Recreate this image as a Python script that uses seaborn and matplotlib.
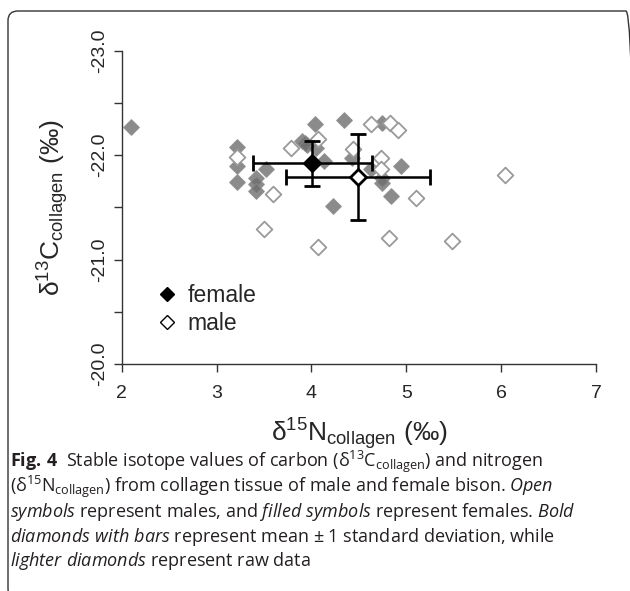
import matplotlib
matplotlib.use("Agg")
import matplotlib.pyplot as plt
from matplotlib.lines import Line2D
from matplotlib.patches import FancyBboxPatch
import seaborn as sns
import pandas as pd

# raw data (d15N, d13C)
female_n = [2.10, 3.22, 3.22, 3.22, 3.42, 3.42, 3.42, 3.52, 3.90, 3.93, 3.95, 4.04,
            4.05, 4.13, 4.23, 4.34, 4.43, 4.63, 4.74, 4.74, 4.74, 4.94, 4.84]
female_c = [-22.27, -22.08, -21.90, -21.74, -21.78, -21.72, -21.66, -21.87, -22.14, -22.12, -22.10, -22.30,
            -22.07, -21.94, -21.51, -22.34, -21.97, -21.87, -22.31, -21.78, -21.73, -21.90, -21.61]
male_n = [3.22, 3.79, 4.07, 3.60, 3.50, 4.07, 4.44, 4.63, 4.83, 4.91, 4.73, 4.73, 5.10, 6.04, 4.82, 5.48]
male_c = [-21.98, -22.07, -22.15, -21.63, -21.29, -21.12, -22.06, -22.30, -22.31, -22.24, -21.97, -21.87,
          -21.59, -21.81, -21.21, -21.18]

# mean +/- 1 SD
groups = ["female", "male"]
mean_n = [4.01, 4.49]
mean_c = [-21.92, -21.79]
sd_n = [0.63, 0.76]
sd_c = [0.22, 0.41]

df = pd.DataFrame({
    "N": female_n + male_n,
    "C": female_c + male_c,
    "sex": ["female"] * len(female_n) + ["male"] * len(male_n),
})

sns.set_style("white")
plt.rcParams["font.family"] = ["Liberation Sans", "DejaVu Sans"]
plt.rcParams["mathtext.fontset"] = "custom"
plt.rcParams["mathtext.rm"] = "Open Sans"
plt.rcParams["mathtext.it"] = "Open Sans:italic"
plt.rcParams["mathtext.bf"] = "Open Sans:bold"
plt.rcParams["mathtext.sf"] = "Liberation Sans"

W, H = 630, 591
fig = plt.figure(figsize=(W / 100, H / 100), dpi=100)
ax = fig.add_axes([121.7 / W, 1 - 364 / H, (596 - 121.7) / W, (364 - 50.7) / H])

sns.scatterplot(data=df[df.sex == "female"], x="N", y="C", marker="D", s=64,
                color="#6e6e6e", alpha=0.8, edgecolor="#8a8a8a", linewidth=0.8, ax=ax, zorder=2)
sns.scatterplot(data=df[df.sex == "male"], x="N", y="C", marker="D", s=64,
                facecolor="white", edgecolor="#9a9a9a", linewidth=1.3, ax=ax, zorder=3)

face = ["black", "white"]
for i, g in enumerate(groups):
    ax.errorbar(mean_n[i], mean_c[i], xerr=sd_n[i], yerr=sd_c[i], fmt="D", ms=8.5,
                mfc=face[i], mec="black", mew=2, ecolor="black", elinewidth=1.8,
                capsize=5.5, capthick=1.8, zorder=5)

ax.set_xlim(2, 7)
ax.set_ylim(-20, -23)
ax.set_xticks([2, 3, 4, 5, 6, 7])
ax.set_yticks([-23, -22, -21, -20])
ax.set_yticks([-22.5, -21.5, -20.5], minor=True)
ax.set_yticklabels(["-23.0", "-22.0", "-21.0", "-20.0"], rotation=90, va="center")
ax.tick_params(which="both", direction="out", length=6, width=1, color="#333333",
               labelsize=14, left=True, bottom=True)
ax.tick_params(axis="x", pad=9)
ax.tick_params(axis="y", pad=4)
for s in ["top", "right"]:
    ax.spines[s].set_visible(False)
for s in ["left", "bottom"]:
    ax.spines[s].set_color("#333333")
    ax.spines[s].set_linewidth(1)

ax.set_xlabel(r"δ$^{\mathsf{15}}$N$_{\mathsf{collagen}}$ (‰)", fontsize=19, labelpad=10)
ax.set_ylabel(r"δ$^{\mathsf{13}}$C$_{\mathsf{collagen}}$ (‰)", fontsize=19, labelpad=14)

handles = [Line2D([], [], marker="D", ls="", color="black", ms=7),
           Line2D([], [], marker="D", ls="", mfc="white", mec="black", mew=1, ms=7)]
ax.legend(handles, groups, loc="upper left", bbox_to_anchor=(0.023, 0.32), frameon=False,
          fontsize=16.5, handletextpad=0.3, labelspacing=0.2, handlelength=1.2)

# caption
cap = [
    r"$\mathbf{Fig.\,4}$  Stable isotope values of carbon (δ$^{13}$C$_{\mathrm{collagen}}$) and nitrogen",
    r"(δ$^{15}$N$_{\mathrm{collagen}}$) from collagen tissue of male and female bison. $\mathit{Open}$",
    r"$\mathit{symbols}$ represent males, and $\mathit{filled\ symbols}$ represent females. $\mathit{Bold}$",
    r"$\mathit{diamonds\ with\ bars}$ represent mean ± 1 standard deviation, while",
    r"$\mathit{lighter\ diamonds}$ represent raw data",
]
baselines = [467, 492, 517, 542, 566]
for line, yb in zip(cap, baselines):
    fig.text(10 / W, 1 - yb / H, line, fontsize=13, family="Open Sans", va="baseline",
             ha="left", color="#231f20")

border = FancyBboxPatch((8 / W, 1 - 598 / H), 628 / W, (598 - 11) / H,
                        boxstyle="round,pad=0,rounding_size=0.016", transform=fig.transFigure,
                        fill=False, ec="#333333", lw=1, clip_on=False)
fig.patches.append(border)

fig.savefig("out.png", dpi=100)
